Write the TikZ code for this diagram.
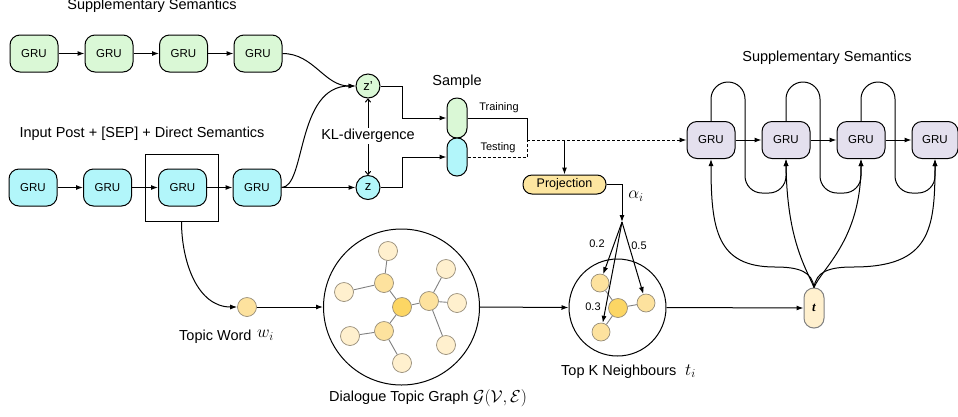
\documentclass[tikz,border=0pt]{standalone}
\usepackage{fontspec}
\setmainfont{Liberation Sans}
\newfontfamily\tnr{Liberation Serif}
\usetikzlibrary{arrows.meta,calc}
\definecolor{cGreen}{RGB}{218,248,214}
\definecolor{cCyan}{RGB}{178,246,250}
\definecolor{cPurple}{RGB}{228,224,238}
\definecolor{cLight}{RGB}{255,240,206}
\definecolor{cMed}{RGB}{253,226,158}
\definecolor{cDark}{RGB}{252,214,100}
\definecolor{cEdge}{RGB}{150,140,120}
\definecolor{cProj}{RGB}{253,230,160}
\begin{document}
\begin{tikzpicture}[x=1pt,y=1pt,
  gru/.style={draw, line width=1pt, rounded corners=10pt, minimum width=48pt, minimum height=37pt, inner sep=0pt, font=\fontsize{11.5}{12}\selectfont},
  gbox/.style={gru, fill=cGreen},
  cbox/.style={gru, fill=cCyan},
  pbox/.style={gru, fill=cPurple},
  arr/.style={-{Latex[length=7pt,width=5pt]}, line width=1pt},
  ln/.style={line width=1pt},
  dsh/.style={dash pattern=on 3pt off 2pt},
  lbl/.style={font=\fontsize{14.5}{17}\selectfont, inner sep=1pt},
  sml/.style={font=\fontsize{11}{12}\selectfont, inner sep=1pt},
  mth/.style={font=\fontsize{17}{17}\selectfont, inner sep=1pt},
  zc/.style={circle, draw, line width=1pt, minimum size=24pt, inner sep=0pt, font=\fontsize{13}{13}\selectfont},
  caps/.style={draw, line width=1pt, rounded corners=9.8pt, minimum width=20pt, inner sep=0pt},
  gn/.style={circle, draw=cEdge, line width=0.7pt, minimum size=19pt, inner sep=0pt},
  kn/.style={circle, draw=cEdge, line width=0.7pt, minimum size=18pt, inner sep=0pt},
  ge/.style={draw=gray, line width=0.9pt},
]
\useasboundingbox (0,0) rectangle (958,-416);

% ---- top green row
\node[gbox] (g1) at (34,-53.5) {GRU};
\node[gbox] (g2) at (109,-53.5) {GRU};
\node[gbox] (g3) at (183.5,-53.5) {GRU};
\node[gbox] (g4) at (258,-53.5) {GRU};
\draw[arr] (g1) -- (g2);
\draw[arr] (g2) -- (g3);
\draw[arr] (g3) -- (g4);
\node[lbl] (tSupL) at (152,-6) {Supplementary Semantics};

% ---- bottom cyan row
\node[cbox] (c1) at (33,-187.5) {GRU};
\node[cbox] (c2) at (107.5,-187.5) {GRU};
\node[cbox] (c3) at (182.5,-187.5) {GRU};
\node[cbox] (c4) at (257,-187.5) {GRU};
\node[draw, line width=1pt, minimum width=73pt, minimum height=67pt, inner sep=0pt] (sq) at (181.5,-187.5) {};
\draw[arr] (c1) -- (c2);
\draw[arr] (c2) -- (c3);
\draw[arr] (c3) -- (c4);
\node[lbl] (tIn) at (142,-134) {Input Post + [SEP] + Direct Semantics};

% ---- latent variables
\node[zc, fill=cGreen] (zp) at (368,-86) {z'};
\node[zc, fill=cCyan] (z) at (368,-187.5) {z};
\draw[arr] (g4.east) to[out=0,in=180] (zp.west);
\draw[arr] (c4.east) .. controls (306,-187.5) and (296,-86) .. (zp.west);
\draw[arr] (c4.east) -- (z.west);
\draw[{To[length=4pt,width=6pt]}-{To[length=4pt,width=6pt]}, ln] (zp.south) -- (z.north);
\node[lbl, fill=white] (tKL) at (368,-136) {KL-divergence};

% ---- sample
\node[caps, fill=cGreen, minimum height=40pt] (sg) at (457,-118) {};
\node[caps, fill=cCyan, minimum height=38pt] (sc) at (457,-157) {};
\node[lbl] (tSample) at (457,-82) {Sample};
\draw[arr] (zp.east) -- ++(22,0) |- (sg.west);
\draw[arr] (z.east) -- ++(22,0) |- (sc.west);
\coordinate (split) at (527,-140);
\draw[ln] (sg.east) -| (split);
\draw[ln, dsh] (sc.east) -| (split);
\node[sml] (tTr) at (499,-108) {Training};
\node[sml] (tTe) at (498,-148) {Testing};

% ---- decoder purple row
\node[pbox] (p1) at (711,-140) {GRU};
\node[pbox] (p2) at (786,-140) {GRU};
\node[pbox] (p3) at (861,-140) {GRU};
\node[pbox, minimum width=46pt] (p4) at (935,-140) {GRU};
\draw[arr, dsh] (split) -- (p1.west);
\draw[arr] (p1) -- (p2);
\draw[arr] (p2) -- (p3);
\draw[arr] (p3) -- (p4);
\node[lbl] (tSupR) at (827,-58) {Supplementary Semantics};
\draw[arr, rounded corners=17pt] (p1.north) -- (711,-82) -- (745,-82) -- (745,-193) -- (786,-193) -- (p2.south);
\draw[arr, rounded corners=17pt] (p2.north) -- (786,-82) -- (820,-82) -- (820,-193) -- (861,-193) -- (p3.south);
\draw[arr, rounded corners=17pt] (p3.north) -- (861,-82) -- (895,-82) -- (895,-193) -- (935,-193) -- (p4.south);

% ---- projection
\node[draw, line width=1pt, fill=cProj, rounded corners=9pt, minimum width=83pt, minimum height=19pt, inner sep=0pt, font=\fontsize{12.5}{13}\selectfont] (proj) at (564.5,-184.5) {Projection};
\draw[arr] (proj.north |- split) -- (proj.north);
\coordinate (fan) at (622,-222);
\draw[arr] (proj.east) -| (fan);
\node[mth] (tAlpha) at (636,-196) {$\alpha_i$};

% ---- topic word and graph
\node[gn, fill=cMed] (tw) at (247,-307) {};
\draw[arr] (sq.south) to[out=-90,in=180] (tw.west);
\node[lbl, anchor=west] (tTW) at (178,-337) {Topic Word};
\node[mth, anchor=west] (tWi) at (256,-335) {$w_i$};

\node[circle, draw, line width=1pt, minimum size=156pt, inner sep=0pt] (big) at (401.5,-307) {};
\draw[arr] (tw.east) -- (big.west);
\node[gn, fill=cLight] (na) at (388,-251) {};
\node[gn, fill=cMed] (nb) at (384,-283) {};
\node[gn, fill=cLight] (nc) at (344,-292) {};
\node[gn, fill=cDark] (nd) at (402,-307) {};
\node[gn, fill=cMed] (ne) at (429,-301) {};
\node[gn, fill=cLight] (nf) at (446,-269) {};
\node[gn, fill=cLight] (ng) at (457,-303) {};
\node[gn, fill=cLight] (nh) at (446,-345) {};
\node[gn, fill=cMed] (ni) at (384,-331) {};
\node[gn, fill=cLight] (nj) at (350,-336) {};
\node[gn, fill=cLight] (nk) at (402,-363) {};
\draw[ge] (na) -- (nb);
\draw[ge] (nb) -- (nc);
\draw[ge] (nb) -- (nd);
\draw[ge] (nd) -- (ne);
\draw[ge] (ne) -- (nf);
\draw[ge] (ne) -- (ng);
\draw[ge] (ne) -- (nh);
\draw[ge] (nd) -- (ni);
\draw[ge] (ni) -- (nj);
\draw[ge] (ni) -- (nk);
\node[lbl, anchor=west] (tDTG) at (328,-398) {Dialogue Topic Graph};
\node[font=\fontsize{18}{18}\selectfont, inner sep=1pt, anchor=west] (tGVE) at (472,-398) {$\mathcal{G}(\mathcal{V},\mathcal{E})$};

% ---- top K neighbours
\node[circle, draw, line width=1pt, minimum size=97pt, inner sep=0pt] (sm) at (617.5,-307.5) {};
\draw[arr] (big.east) -- (sm.west);
\node[kn, fill=cMed] (k1) at (600,-283) {};
\node[kn, fill=cDark, minimum size=19pt] (k2) at (618,-308) {};
\node[kn, fill=cMed] (k3) at (646,-303) {};
\node[kn, fill=cMed] (k4) at (601,-332) {};
\draw[ge] (k1) -- (k2);
\draw[ge] (k2) -- (k3);
\draw[ge] (k2) -- (k4);
\draw[arr] (fan) -- (k1);
\draw[arr] (fan) -- (k4);
\draw[arr] (fan) -- (k3);
\node[sml] (t02) at (597,-244) {0.2};
\node[sml] (t05) at (639,-246) {0.5};
\node[sml] (t03) at (593,-307) {0.3};
\node[lbl, anchor=west] (tTopK) at (560,-372) {Top K Neighbours};
\node[mth, anchor=west] (tTi) at (684,-371) {$t_i$};

% ---- t node
\node[caps, draw=gray, fill=cLight, minimum height=40pt, font=\fontsize{13}{13}\selectfont] (t) at (814,-308) {\tnr\bfseries\itshape t};
\draw[arr] (sm.east) -- (t.west);
\draw[arr] (t.north) .. controls (812,-272) and (800,-267) .. (775,-267) .. controls (717,-267) and (711,-230) .. (p1.south);
\draw[arr] (t.north) .. controls (806,-268) and (787,-240) .. (p2.south);
\draw[arr] (t.north) .. controls (822,-268) and (861,-240) .. (p3.south);
\draw[arr] (t.north) .. controls (816,-272) and (828,-267) .. (853,-267) .. controls (930,-267) and (935,-230) .. (p4.south);
\end{tikzpicture}
\end{document}
